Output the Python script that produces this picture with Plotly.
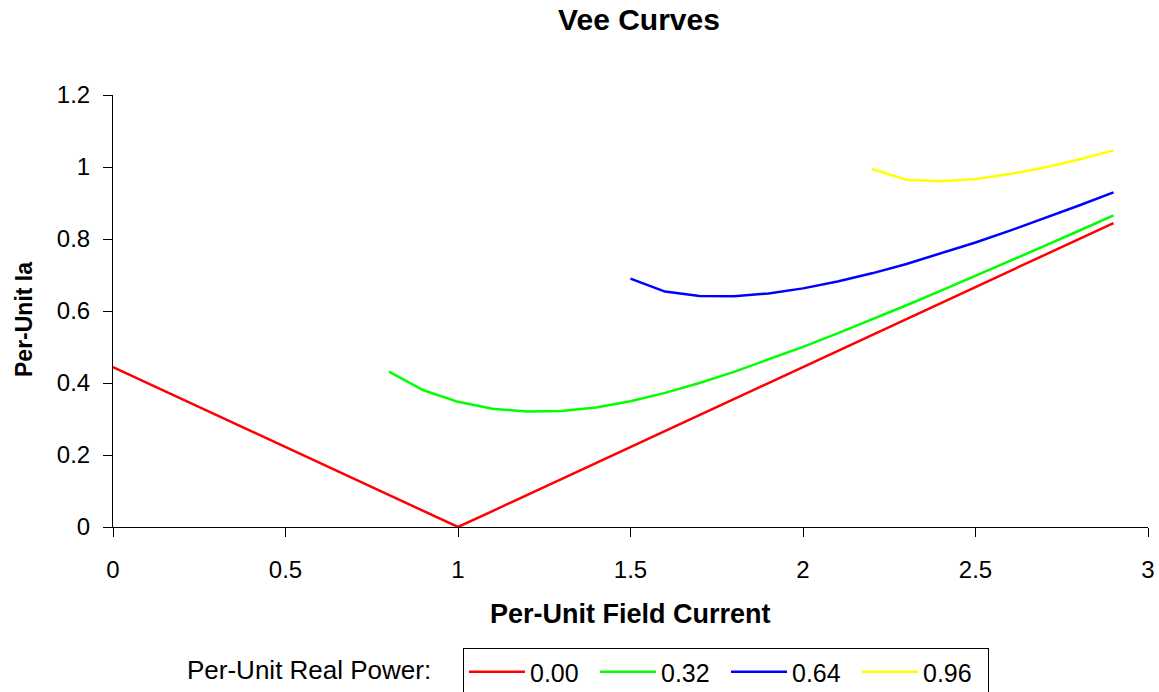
import plotly.graph_objects as go

# Per-unit field current samples
x_red = [0.0, 0.1, 0.2, 0.3, 0.4, 0.5, 0.6, 0.7, 0.8, 0.9, 1.0, 1.1, 1.2, 1.3, 1.4,
         1.5, 1.6, 1.7, 1.8, 1.9, 2.0, 2.1, 2.2, 2.3, 2.4, 2.5, 2.6, 2.7, 2.8, 2.9]
y_red = [0.4444, 0.4, 0.3556, 0.3111, 0.2667, 0.2222, 0.1778, 0.1333, 0.0889, 0.0444, 0.0,
         0.0444, 0.0889, 0.1333, 0.1778, 0.2222, 0.2667, 0.3111, 0.3556, 0.4, 0.4444,
         0.4889, 0.5333, 0.5778, 0.6222, 0.6667, 0.7111, 0.7556, 0.8, 0.8444]

x_green = [0.8, 0.9, 1.0, 1.1, 1.2, 1.3, 1.4, 1.5, 1.6, 1.7, 1.8, 1.9, 2.0, 2.1, 2.2,
           2.3, 2.4, 2.5, 2.6, 2.7, 2.8, 2.9]
y_green = [0.4315, 0.3797, 0.3477, 0.3286, 0.3205, 0.3221, 0.3322, 0.3494, 0.3725, 0.4,
           0.431, 0.4647, 0.5005, 0.5379, 0.5765, 0.616, 0.6564, 0.6974, 0.7388, 0.7807,
           0.8229, 0.8654]

x_blue = [1.5, 1.6, 1.7, 1.8, 1.9, 2.0, 2.1, 2.2, 2.3, 2.4, 2.5, 2.6, 2.7, 2.8, 2.9]
y_blue = [0.69, 0.654, 0.6414, 0.641, 0.6488, 0.6628, 0.6817, 0.7046, 0.7307, 0.7595,
          0.7904, 0.8232, 0.8574, 0.893, 0.9297]

x_yellow = [2.2, 2.3, 2.4, 2.5, 2.6, 2.7, 2.8, 2.9]
y_yellow = [0.9943, 0.9645, 0.9602, 0.9669, 0.9804, 0.9988, 1.0209, 1.0461]

series_names = ["0.00", "0.32", "0.64", "0.96"]
series_colors = ["#FF0000", "#00FF00", "#0000FF", "#FFFF00"]

x_ticks = [0, 0.5, 1, 1.5, 2, 2.5, 3]
x_tick_text = ["0", "0.5", "1", "1.5", "2", "2.5", "3"]
y_ticks = [0, 0.2, 0.4, 0.6, 0.8, 1.0, 1.2]
y_tick_text = ["0", "0.2", "0.4", "0.6", "0.8", "1", "1.2"]

FONT = "Liberation Sans, Arial, sans-serif"

W, H = 1159, 692
L, T, R, B = 113, 95, 11, 165
PW, PH = W - L - R, H - T - B

fig = go.Figure()
for xs, ys, name, col in zip([x_red, x_green, x_blue, x_yellow],
                             [y_red, y_green, y_blue, y_yellow],
                             series_names, series_colors):
    fig.add_trace(go.Scatter(x=xs, y=ys, mode="lines", name=name,
                             line=dict(color=col, width=2.5)))

axis_common = dict(showgrid=False, zeroline=False, showline=True, linecolor="black",
                   linewidth=1, ticks="outside", ticklen=9, tickcolor="black", tickwidth=1,
                   tickfont=dict(family=FONT, size=24, color="black"), automargin=False,
                   ticklabeloverflow="allow")

fig.update_layout(
    width=W, height=H,
    paper_bgcolor="white", plot_bgcolor="white",
    margin=dict(l=L, r=R, t=T, b=B, autoexpand=False),
    title=dict(text="<b>Vee Curves</b>", x=639 / W, xref="container", xanchor="center",
               y=1 - 19 / H, yref="container", yanchor="middle",
               font=dict(family=FONT, size=30, color="black")),
    xaxis=dict(range=[0, 3], tickvals=x_ticks, ticktext=x_tick_text,
               ticklabelstandoff=12, **axis_common),
    yaxis=dict(range=[0, 1.2], tickvals=y_ticks, ticktext=y_tick_text,
               ticklabelstandoff=8, **axis_common),
    xaxis2=dict(range=[0, 3], overlaying="x", anchor="y", tickvals=x_ticks, ticks="inside",
                ticklen=9, tickcolor="black", showticklabels=False, showline=False,
                showgrid=False, zeroline=False),
    yaxis2=dict(range=[0, 1.2], overlaying="y", anchor="x", tickvals=y_ticks, ticks="inside",
                ticklen=9, tickcolor="black", showticklabels=False, showline=False,
                showgrid=False, zeroline=False),
    showlegend=True,
    legend=dict(orientation="h", x=(463 - L) / PW, xanchor="left",
                y=(527 - 648) / PH, yanchor="top",
                bordercolor="black", borderwidth=1, bgcolor="white",
                font=dict(family=FONT, size=25, color="black"),
                itemwidth=56, entrywidth=60, entrywidthmode="pixels", tracegroupgap=0),
)

fig.add_annotation(text="<b>Per-Unit Field Current</b>", xref="paper", yref="paper",
                   x=(630 - L) / PW, y=(527 - 614) / PH, xanchor="center", yanchor="middle",
                   showarrow=False, font=dict(family=FONT, size=27, color="black"))
fig.add_annotation(text="<b>Per-Unit Ia</b>", xref="paper", yref="paper",
                   x=(24 - L) / PW, y=(527 - 320) / PH, xanchor="center", yanchor="middle",
                   textangle=-90, showarrow=False, font=dict(family=FONT, size=23, color="black"))
fig.add_annotation(text="Per-Unit Real Power:", xref="paper", yref="paper",
                   x=(433 - L) / PW, y=(527 - 670) / PH, xanchor="right", yanchor="middle",
                   showarrow=False, font=dict(family=FONT, size=26, color="black"))

fig.write_html(
    "out.html",
    config={"displayModeBar": False},
    post_script="document.body.style.margin='0';document.body.style.overflow='hidden';",
)
